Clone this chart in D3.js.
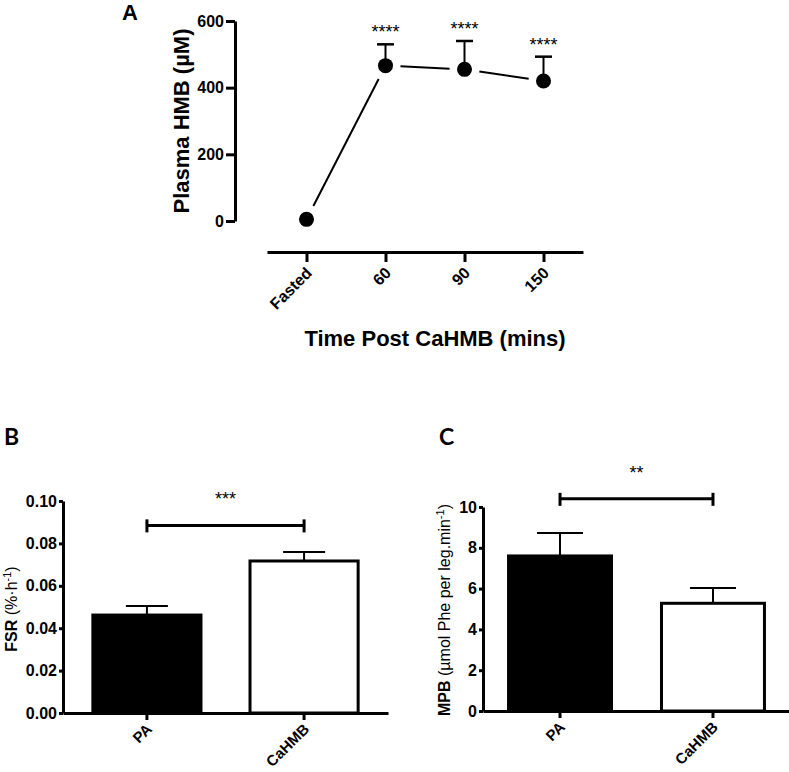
<!DOCTYPE html>
<html>
<head>
<meta charset="utf-8">
<script src="https://cdn.jsdelivr.net/npm/d3@7"></script>
<style>
  body { margin: 0; background: #fff; }
  svg { display: block; }
  text { font-family: "Liberation Sans", Arial, sans-serif; fill: #000; }
  .tick text { font-weight: bold; font-size: 16px; }
</style>
</head>
<body>
<div id="chart"></div>
<script>
// panel A data
const timeLabels = ['Fasted', '60', '90', '150'];
const hmbMean = [5, 466, 455, 420];
const hmbSem = [0, 64, 85, 73];
const hmbStars = ['', '****', '****', '****'];
const hmbTicks = [0, 200, 400, 600];

// panel B data
const groups = ['PA', 'CaHMB'];
const fsrMean = [0.0462, 0.0717];
const fsrSem = [0.0043, 0.0043];
const fsrTicks = [0, 0.02, 0.04, 0.06, 0.08, 0.10];

// panel C data
const mpbMean = [7.6, 5.28];
const mpbSem = [1.13, 0.75];
const mpbTicks = [0, 2, 4, 6, 8, 10];

const barFill = ['#000', '#fff'];

const svg = d3.select('#chart').append('svg')
  .attr('width', 789)
  .attr('height', 772);

function styleAxis(g) {
  g.selectAll('.domain').attr('stroke', '#000').attr('stroke-width', 3);
  g.selectAll('.tick line').attr('stroke', '#000').attr('stroke-width', 3);
}

// ---------- Panel A ----------
const xA = d3.scalePoint().domain(timeLabels).range([267, 583]).padding(0.5);
const yA = d3.scaleLinear().domain([0, 600]).range([221, 21]);

svg.append('text').attr('x', 122).attr('y', 20)
  .style('font-size', '22px').style('font-weight', 'bold').text('A');

const axA = svg.append('g').attr('transform', 'translate(235,0)')
  .call(d3.axisLeft(yA).tickValues(hmbTicks).tickSize(9).tickSizeOuter(0).tickPadding(2));
styleAxis(axA);

const axAx = svg.append('g').attr('transform', 'translate(0,252)')
  .call(d3.axisBottom(xA).tickSize(10).tickSizeOuter(0));
styleAxis(axAx);
axAx.selectAll('.tick text')
  .attr('text-anchor', 'end')
  .attr('dy', null)
  .attr('y', 0)
  .attr('transform', 'translate(6,22) rotate(-45)');

// connecting line with gaps round markers
const gap = 15;
const ptsA = timeLabels.map((t, i) => [xA(t), yA(hmbMean[i])]);
for (let i = 0; i < ptsA.length - 1; i++) {
  const [x1, y1] = ptsA[i], [x2, y2] = ptsA[i + 1];
  const len = Math.hypot(x2 - x1, y2 - y1);
  const ux = (x2 - x1) / len, uy = (y2 - y1) / len;
  svg.append('line')
    .attr('x1', x1 + ux * gap).attr('y1', y1 + uy * gap)
    .attr('x2', x2 - ux * gap).attr('y2', y2 - uy * gap)
    .attr('stroke', '#000').attr('stroke-width', 2);
}

// error bars (up only)
timeLabels.forEach((t, i) => {
  if (!hmbSem[i]) return;
  const cx = xA(t);
  const top = yA(hmbMean[i] + hmbSem[i]);
  svg.append('line').attr('x1', cx).attr('x2', cx)
    .attr('y1', yA(hmbMean[i])).attr('y2', top)
    .attr('stroke', '#000').attr('stroke-width', 2);
  svg.append('line').attr('x1', cx - 8.5).attr('x2', cx + 8.5)
    .attr('y1', top).attr('y2', top)
    .attr('stroke', '#000').attr('stroke-width', 2.5);
  if (hmbStars[i]) {
    svg.append('text').attr('x', cx).attr('y', top - 6)
      .attr('text-anchor', 'middle').style('font-size', '18px')
      .text(hmbStars[i]);
  }
});

svg.selectAll('.ptA').data(ptsA).enter().append('circle')
  .attr('cx', d => d[0]).attr('cy', d => d[1]).attr('r', 7.5).attr('fill', '#000');

svg.append('text')
  .attr('transform', 'translate(189,121) rotate(-90)')
  .attr('text-anchor', 'middle')
  .style('font-size', '22px').style('font-weight', 'bold')
  .text('Plasma HMB (µM)');

svg.append('text').attr('x', 435).attr('y', 346)
  .attr('text-anchor', 'middle')
  .style('font-size', '22px').style('font-weight', 'bold')
  .text('Time Post CaHMB (mins)');

// ---------- bar panels ----------
function barPanel(opt) {
  const x = d3.scaleBand().domain(groups).range(opt.xr)
    .paddingInner(opt.pIn).paddingOuter(opt.pOut);
  const y = d3.scaleLinear().domain(opt.domain).range(opt.yr);

  svg.append('text').attr('x', opt.label[0]).attr('y', opt.label[1])
    .style('font-family', 'Lato, "Open Sans", sans-serif')
    .style('font-size', '23px').style('font-weight', 'bold').text(opt.name);

  // bars
  svg.selectAll('.bar' + opt.name).data(groups).enter().append('rect')
    .attr('x', d => x(d)).attr('width', x.bandwidth())
    .attr('y', (d, i) => y(opt.mean[i]))
    .attr('height', (d, i) => y(0) - y(opt.mean[i]))
    .attr('fill', (d, i) => barFill[i])
    .attr('stroke', '#000').attr('stroke-width', 3);

  // error bars
  groups.forEach((g, i) => {
    const cx = x(g) + x.bandwidth() / 2;
    const top = y(opt.mean[i] + opt.sem[i]);
    svg.append('line').attr('x1', cx).attr('x2', cx)
      .attr('y1', y(opt.mean[i])).attr('y2', top)
      .attr('stroke', '#000').attr('stroke-width', 2);
    svg.append('line').attr('x1', cx - opt.cap).attr('x2', cx + opt.cap)
      .attr('y1', top).attr('y2', top)
      .attr('stroke', '#000').attr('stroke-width', 2);
  });

  const ax = svg.append('g').attr('transform', `translate(${opt.xr[0]},0)`)
    .call(d3.axisLeft(y).tickValues(opt.ticks).tickSize(4).tickSizeOuter(0)
      .tickPadding(2).tickFormat(opt.fmt));
  styleAxis(ax);

  const axx = svg.append('g').attr('transform', `translate(0,${opt.yr[0]})`)
    .call(d3.axisBottom(x).tickSize(7).tickSizeOuter(0));
  styleAxis(axx);
  axx.selectAll('.tick text')
    .attr('text-anchor', 'end')
    .attr('dy', null)
    .attr('y', 0)
    .style('font-size', '15px')
    .attr('transform', 'translate(6,17) rotate(-45)');

  // significance bracket
  const x1 = x(groups[0]) + x.bandwidth() / 2;
  const x2 = x(groups[1]) + x.bandwidth() / 2;
  const by = y(opt.bracket);
  svg.append('line').attr('x1', x1).attr('x2', x2).attr('y1', by).attr('y2', by)
    .attr('stroke', '#000').attr('stroke-width', 3);
  [x1, x2].forEach(bx => {
    svg.append('line').attr('x1', bx).attr('x2', bx)
      .attr('y1', by - 6).attr('y2', by + 7)
      .attr('stroke', '#000').attr('stroke-width', 3);
  });
  svg.append('text').attr('x', (x1 + x2) / 2).attr('y', by - 20)
    .attr('text-anchor', 'middle').style('font-size', '18px').text(opt.stars);

  // y label
  const yl = svg.append('text')
    .attr('transform', `translate(${opt.ylab[0]},${opt.ylab[1]}) rotate(-90)`)
    .attr('text-anchor', 'middle').style('font-size', '16px');
  opt.ytitle(yl);
}

barPanel({
  name: 'B', label: [4, 445],
  xr: [63, 388], pIn: 0.312, pOut: 0.19,
  yr: [713, 501], domain: [0, 0.1],
  mean: fsrMean, sem: fsrSem, ticks: fsrTicks,
  fmt: d3.format('.2f'), cap: 21, bracket: 0.0885, stars: '***',
  ylab: [17, 609],
  ytitle: t => {
    t.append('tspan').style('font-weight', 'bold').text('FSR ');
    t.append('tspan').text('(%·h');
    t.append('tspan').attr('dy', -6).style('font-size', '11px').text('-1');
    t.append('tspan').attr('dy', 6).text(')');
  }
});

barPanel({
  name: 'C', label: [439, 445],
  xr: [483, 790], pIn: 0.327, pOut: 0.167,
  yr: [711, 507], domain: [0, 10],
  mean: mpbMean, sem: mpbSem, ticks: mpbTicks,
  fmt: d3.format('d'), cap: 23, bracket: 10.4, stars: '**',
  ylab: [450, 610],
  ytitle: t => {
    t.append('tspan').style('font-weight', 'bold').text('MPB ');
    t.append('tspan').text('(µmol Phe per leg.min');
    t.append('tspan').attr('dy', -6).style('font-size', '11px').text('-1');
    t.append('tspan').attr('dy', 6).text(')');
  }
});
</script>
</body>
</html>
